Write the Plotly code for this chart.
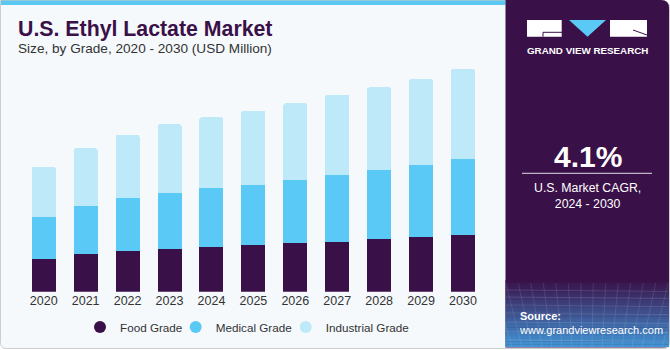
import plotly.graph_objects as go

# ---------------- data ----------------
years = ["2020", "2021", "2022", "2023", "2024", "2025", "2026", "2027", "2028", "2029", "2030"]
food_grade = [4.22, 4.87, 5.30, 5.56, 5.86, 6.12, 6.38, 6.51, 6.82, 7.08, 7.42]
medical_grade = [5.47, 6.29, 6.94, 7.25, 7.64, 7.81, 8.16, 8.65, 8.98, 9.41, 9.86]
industrial_grade = [6.59, 7.51, 8.16, 8.98, 9.20, 9.63, 9.99, 10.46, 10.81, 11.20, 11.68]
series_names = ["Food Grade", "Medical Grade", "Industrial Grade"]
callout_year = "2023"
callout_text = "$21.8M"

# ---------------- style ----------------
W, H = 670, 350
FONT = "Liberation Sans, Arial, sans-serif"
PURPLE = "#3A1048"
MED = "#5BC9F5"
IND = "#BDE9F9"
BG = "#F5F9FC"
TXT = "#333333"


def px(x):
    return x / W


def py(y):
    return 1 - y / H


def rrect_path(x0, y0, x1, y1, r_tl=0, r_tr=0, r_br=0, r_bl=0):
    def P(x, y):
        return f"{px(x):.5f},{py(y):.5f}"
    d = f"M {P(x0 + r_tl, y0)} L {P(x1 - r_tr, y0)} "
    d += f"Q {P(x1, y0)} {P(x1, y0 + r_tr)} " if r_tr else ""
    d += f"L {P(x1, y1 - r_br)} "
    d += f"Q {P(x1, y1)} {P(x1 - r_br, y1)} " if r_br else ""
    d += f"L {P(x0 + r_bl, y1)} "
    d += f"Q {P(x0, y1)} {P(x0, y1 - r_bl)} " if r_bl else ""
    d += f"L {P(x0, y0 + r_tl)} "
    d += f"Q {P(x0, y0)} {P(x0 + r_tl, y0)} " if r_tl else ""
    return d + "Z"


fig = go.Figure()
colors = [PURPLE, MED, IND]
legend_ids = ["legend", "legend2", "legend3"]
for name, vals, col in zip(series_names, [food_grade, medical_grade, industrial_grade], colors):
    fig.add_trace(go.Bar(
        x=years, y=vals, name=name, showlegend=False,
        marker=dict(color=col, line=dict(width=0)),
        hoverinfo="skip",
    ))
# legend entries with round symbols (one legend box each, for exact placement)
for name, col, lid in zip(series_names, colors, legend_ids):
    fig.add_trace(go.Scatter(
        x=[None], y=[None], mode="markers", name=name, legend=lid,
        marker=dict(color=col, size=10, symbol="circle"),
    ))

totals = [a + b + c for a, b, c in zip(food_grade, medical_grade, industrial_grade)]
ci = years.index(callout_year)

shapes = []
shapes.append(dict(type="path", path=rrect_path(0.5, 0.5, 669.5, 348.5, 0, 8, 6, 6),
                   xref="paper", yref="paper", fillcolor=BG,
                   line=dict(color="#CDCDCD", width=1), layer="below"))
shapes.append(dict(type="rect", xref="paper", yref="paper", x0=px(1), x1=px(505.5), y0=py(0.5), y1=py(5),
                   fillcolor="#5BC8F2", line=dict(width=0), layer="below"))
shapes.append(dict(type="path", path=rrect_path(505.5, 0, 669, 347.5, 0, 8, 5, 0),
                   xref="paper", yref="paper", fillcolor=PURPLE, line=dict(width=0), layer="below"))
c0 = (58, 16, 72)
c1 = (66, 150, 215)
y_start, y_end = 280, 347
nb = 24
for i in range(nb):
    t = (i + 0.5) / nb
    col = tuple(int(c0[k] + (c1[k] - c0[k]) * t) for k in range(3))
    ya = y_start + (y_end - y_start) * i / nb
    yb = y_start + (y_end - y_start) * (i + 1) / nb + 0.3
    shapes.append(dict(type="rect", xref="paper", yref="paper", x0=px(505.5), x1=px(669),
                       y0=py(ya), y1=py(min(yb, 347)), fillcolor=f"rgb{col}",
                       line=dict(width=0), layer="below"))
for yy in [290, 297, 305, 313, 322, 331, 340]:
    shapes.append(dict(type="line", xref="paper", yref="paper", x0=px(506), x1=px(668),
                       y0=py(yy), y1=py(yy + 1.5), line=dict(color="rgba(255,255,255,0.12)", width=1),
                       layer="below"))
for xx in range(512, 668, 10):
    shapes.append(dict(type="line", xref="paper", yref="paper", x0=px(xx + (xx - 587) * 0.25), x1=px(xx),
                       y0=py(283), y1=py(347), line=dict(color="rgba(255,255,255,0.10)", width=1),
                       layer="below"))
shapes.append(dict(type="rect", xref="paper", yref="paper", x0=px(527), x1=px(561.7), y0=py(20), y1=py(36.7),
                   fillcolor="white", line=dict(width=0), layer="below"))
shapes.append(dict(type="path", xref="paper", yref="paper",
                   path=f"M {px(569):.5f},{py(20):.5f} L {px(606):.5f},{py(20):.5f} L {px(587.5):.5f},{py(36.7):.5f} Z",
                   fillcolor=MED, line=dict(width=0), layer="below"))
shapes.append(dict(type="rect", xref="paper", yref="paper", x0=px(610), x1=px(647), y0=py(20), y1=py(36.7),
                   fillcolor="white", line=dict(width=0), layer="below"))
shapes.append(dict(type="path", xref="paper", yref="paper",
                   path=f"M {px(562):.5f},{py(32.3):.5f} L {px(543):.5f},{py(32.3):.5f} L {px(543):.5f},{py(36.7):.5f}",
                   line=dict(color=PURPLE, width=1), layer="below"))
shapes.append(dict(type="line", xref="paper", yref="paper", x0=px(633), x1=px(647), y0=py(30), y1=py(35),
                   line=dict(color=PURPLE, width=1), layer="below"))
shapes.append(dict(type="line", xref="paper", yref="paper", x0=px(522), x1=px(652), y0=py(173.3), y1=py(173.3),
                   line=dict(color="rgba(255,255,255,0.85)", width=1), layer="below"))

annotations = [
    dict(text="<b>U.S. Ethyl Lactate Market</b>", x=px(16), y=py(29), xref="paper", yref="paper",
         xanchor="left", yanchor="middle", showarrow=False, font=dict(family=FONT, size=21.3, color=PURPLE)),
    dict(text="Size, by Grade, 2020 - 2030 (USD Million)", x=px(16), y=py(48.5), xref="paper", yref="paper",
         xanchor="left", yanchor="middle", showarrow=False, font=dict(family=FONT, size=13.6, color=TXT)),
    dict(text=callout_text, x=callout_year, y=totals[ci], xref="x", yref="y", yanchor="bottom",
         yshift=11, showarrow=False, font=dict(family=FONT, size=14, color=TXT)),
    dict(text="<b>GRAND VIEW RESEARCH</b>", x=px(587.3), y=py(50.5), xref="paper", yref="paper",
         xanchor="center", yanchor="middle", showarrow=False, font=dict(family=FONT, size=9.8, color="white")),
    dict(text="<b>4.1%</b>", x=px(587.5), y=py(156.5), xref="paper", yref="paper",
         xanchor="center", yanchor="middle", showarrow=False, font=dict(family=FONT, size=30, color="white")),
    dict(text="U.S. Market CAGR,<br>2024 - 2030", x=px(587.5), y=py(196), xref="paper", yref="paper",
         xanchor="center", yanchor="middle", showarrow=False, align="center",
         font=dict(family=FONT, size=12.3, color="white")),
    dict(text="<b>Source:</b><br>www.grandviewresearch.com", x=px(517), y=py(323), xref="paper", yref="paper",
         xanchor="left", yanchor="middle", showarrow=False, align="left",
         font=dict(family=FONT, size=11, color="white")),
]

legend_common = dict(orientation="h", xanchor="left", yanchor="middle", y=py(327),
                     font=dict(family=FONT, size=11.7, color=TXT), bgcolor="rgba(0,0,0,0)",
                     itemsizing="constant", itemwidth=30)
legend_x = [80, 175.7, 285.7]

fig.update_layout(
    width=W, height=H,
    margin=dict(l=0, r=0, t=0, b=0),
    paper_bgcolor="white",
    plot_bgcolor="rgba(0,0,0,0)",
    barmode="stack",
    bargap=0.427,
    barcornerradius=2,
    font=dict(family=FONT, color=TXT),
    showlegend=True,
    legend=dict(legend_common, x=px(legend_x[0])),
    legend2=dict(legend_common, x=px(legend_x[1])),
    legend3=dict(legend_common, x=px(legend_x[2])),
    xaxis=dict(type="category", domain=[px(22.75), px(484)], range=[-0.5, 10.5],
               showgrid=False, zeroline=False, showline=False,
               ticks="", tickfont=dict(family=FONT, size=12.5, color=TXT), fixedrange=True),
    yaxis=dict(domain=[py(291.7), py(60)], range=[0, 30.17], visible=False, fixedrange=True),
    shapes=shapes,
    annotations=annotations,
)

fig.write_html("out.html")
